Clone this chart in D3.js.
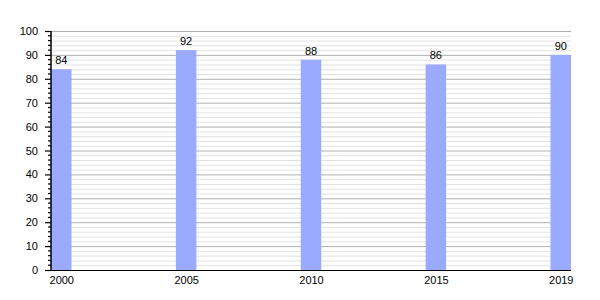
<!DOCTYPE html>
<html><head><meta charset="utf-8">
<script src="https://cdn.jsdelivr.net/npm/d3@7"></script>
<style>body{margin:0;background:#fff}svg{display:block}text{font-family:"Liberation Sans",Arial,sans-serif;font-size:11px;fill:#000}</style>
</head><body>
<script>
const years = ["2000","2005","2010","2015","2019"];
const values = [84,92,88,86,90];
const yTicks = [0,10,20,30,40,50,60,70,80,90,100];

(function(){
const W=600,H=300;
const svg=d3.select("body").append("svg").attr("width",W).attr("height",H);
const pL=51,pR=571,pT=31,pB=270,barW=20.5;
const x=d3.scalePoint().domain(years).range([pL+barW/2,pR-barW/2]);
const y=d3.scaleLinear().domain([0,100]).range([pB,pT]);

const minor=d3.range(2,100,2).filter(v=>v%10!==0);
svg.append("g").selectAll("line").data(minor).join("line")
 .attr("x1",pL).attr("x2",pR).attr("y1",d=>y(d)+0.5).attr("y2",d=>y(d)+0.5)
 .attr("stroke","#e2e2e2").attr("stroke-width",1);
svg.append("g").selectAll("line").data(yTicks.filter(v=>v>0)).join("line")
 .attr("x1",pL).attr("x2",pR).attr("y1",d=>y(d)+0.5).attr("y2",d=>y(d)+0.5)
 .attr("stroke","#b0b0b0").attr("stroke-width",1);

svg.append("g").selectAll("rect").data(values).join("rect")
 .attr("x",(d,i)=>x(years[i])-barW/2).attr("width",barW)
 .attr("y",d=>y(d)).attr("height",d=>y(0)-y(d))
 .attr("fill","#99aaff");

svg.append("g").selectAll("text").data(values).join("text")
 .attr("x",(d,i)=>x(years[i])).attr("y",d=>y(d)-5)
 .attr("text-anchor","middle").text(d=>d);

const ya=d3.axisLeft(y).tickValues(yTicks).tickSize(6).tickPadding(7);
const yg=svg.append("g").attr("transform",`translate(${pL},0)`).call(ya);
yg.select(".domain").remove();
yg.selectAll("line").attr("stroke","#000").attr("stroke-width",1.2);
yg.selectAll("text").style("font-size","11px").attr("fill","#000");
svg.append("g").selectAll("line").data(minor).join("line")
 .attr("x1",pL-3).attr("x2",pL).attr("y1",d=>y(d)).attr("y2",d=>y(d))
 .attr("stroke","#000").attr("stroke-width",1.2);
svg.append("line").attr("x1",pL).attr("x2",pL).attr("y1",pT).attr("y2",pB)
 .attr("stroke","#000").attr("stroke-width",1.5);

svg.append("line").attr("x1",pL-6).attr("x2",pR).attr("y1",pB+0.5).attr("y2",pB+0.5)
 .attr("stroke","#000").attr("stroke-width",1.2);
const xa=d3.axisBottom(x).tickSize(0).tickPadding(6);
const xg=svg.append("g").attr("transform",`translate(0,${pB})`).call(xa);
xg.select(".domain").remove();
xg.selectAll("text").style("font-size","11px").attr("fill","#000");
})();
</script>
</body></html>
